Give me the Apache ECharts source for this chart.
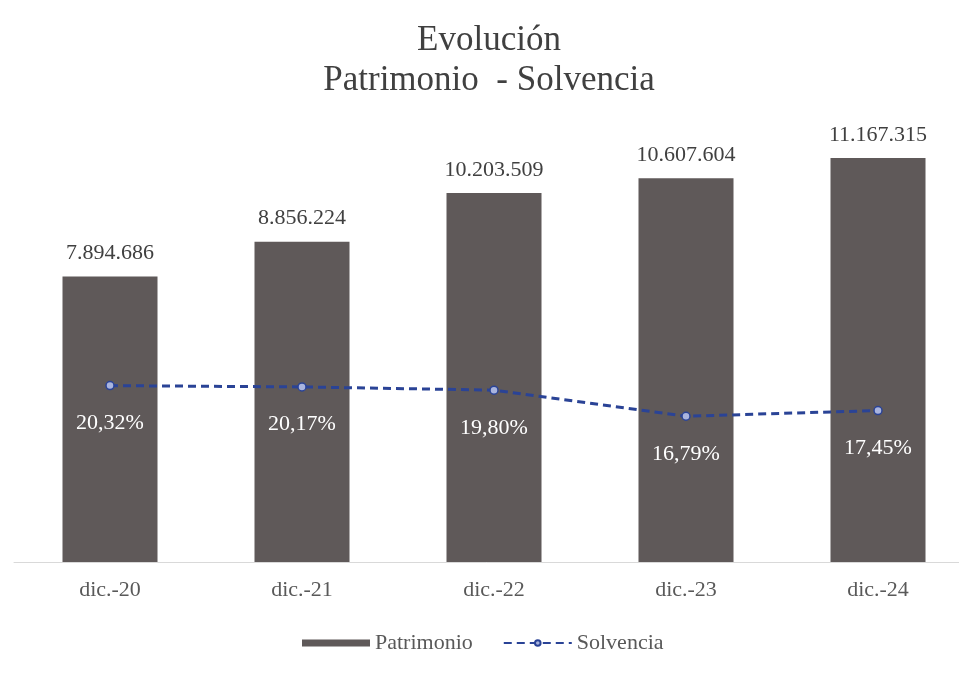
<!DOCTYPE html>
<html>
<head>
<meta charset="utf-8">
<script src="https://cdn.jsdelivr.net/npm/echarts@6/dist/echarts.min.js"></script>
<style>
  html, body { margin: 0; padding: 0; background: #fff; }
  #chart { width: 959px; height: 677px; }
</style>
</head>
<body>
<div id="chart"></div>
<script>
// datos del gráfico
const categorias = ['dic.-20', 'dic.-21', 'dic.-22', 'dic.-23', 'dic.-24']
const patrimonio = [7894686, 8856224, 10203509, 10607604, 11167315]
const solvencia = [0.2032, 0.2017, 0.1980, 0.1679, 0.1745]

const fuente = 'Liberation Serif'
// formato español: miles con punto, decimales con coma
const miles = (v) => String(v).replace(/\B(?=(\d{3})+(?!\d))/g, '.')
const pct = (v) => (v * 100).toFixed(2).replace('.', ',') + '%'

const chart = echarts.init(document.getElementById('chart'))
chart.setOption({
  backgroundColor: '#fff',
  textStyle: { fontFamily: fuente },
  title: {
    text: 'Evolución\nPatrimonio  - Solvencia',
    left: 484,
    textAlign: 'center',
    top: 16,
    textStyle: {
      fontFamily: fuente,
      fontSize: 35,
      fontWeight: 'normal',
      color: '#404040',
      lineHeight: 40,
    },
  },
  legend: {
    bottom: 18,
    left: 297,
    itemGap: 30,
    itemWidth: 68,
    itemHeight: 7,
    textStyle: { fontFamily: fuente, fontSize: 22, color: '#595959' },
    data: [
      { name: 'Patrimonio', icon: 'rect' },
      { name: 'Solvencia' },
    ],
  },
  grid: {
    left: 14,
    right: -15,
    top: 128,
    bottom: 115,
    outerBoundsMode: 'none',
  },
  xAxis: {
    type: 'category',
    data: categorias,
    axisLine: { lineStyle: { color: '#d9d9d9', width: 1 } },
    axisTick: { show: false },
    axisLabel: { fontFamily: fuente, fontSize: 22, color: '#595959', margin: 17 },
  },
  yAxis: [
    { type: 'value', min: 0, max: 12000000, show: false, splitLine: { show: false } },
    { type: 'value', min: 0, max: 0.5, show: false, splitLine: { show: false } },
  ],
  series: [
    {
      name: 'Patrimonio',
      type: 'bar',
      barWidth: 95,
      data: patrimonio,
      itemStyle: { color: '#5f5959' },
      label: {
        show: true,
        position: 'top',
        distance: 12,
        fontFamily: fuente,
        fontSize: 22,
        color: '#404040',
        formatter: (p) => miles(p.value),
      },
    },
    {
      name: 'Solvencia',
      type: 'line',
      yAxisIndex: 1,
      data: solvencia,
      symbol: 'circle',
      symbolSize: 8,
      lineStyle: { color: '#2a4396', width: 3, type: [8, 5] },
      itemStyle: { color: '#a9b4de', borderColor: '#2a4396', borderWidth: 1.5 },
      label: {
        show: true,
        position: 'bottom',
        distance: 22,
        fontFamily: fuente,
        fontSize: 22,
        color: '#ffffff',
        formatter: (p) => pct(p.value),
      },
      z: 5,
    },
  ],
})
</script>
</body>
</html>
